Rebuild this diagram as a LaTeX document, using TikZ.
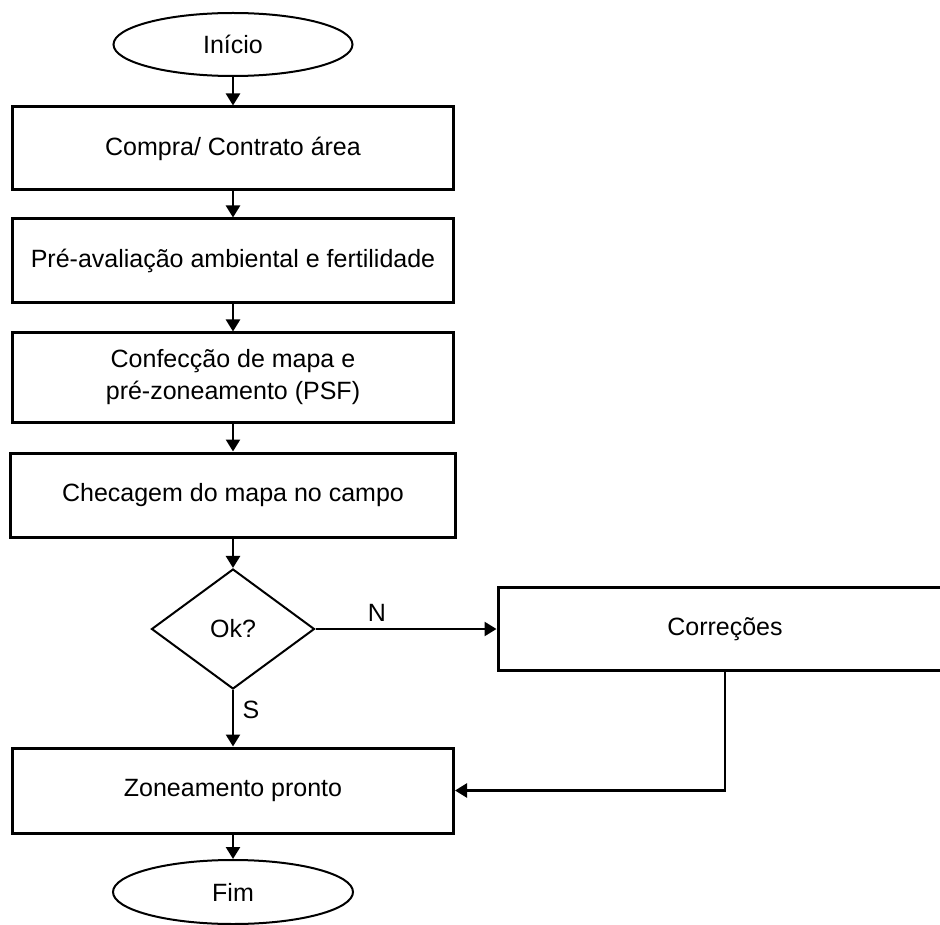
\documentclass[tikz,border=0pt]{standalone}
\usepackage{fontspec}
\setmainfont{Liberation Sans}
\usetikzlibrary{shapes.geometric,arrows.meta}
\begin{document}
\begin{tikzpicture}[x=1pt,y=-1pt,
  every node/.style={font=\fontsize{25}{32}\selectfont, inner sep=0pt},
  procbox/.style={draw, line width=3pt, minimum width=441pt, minimum height=83pt, align=center},
  terminal/.style={draw, ellipse, line width=2pt, minimum width=239pt, minimum height=63pt},
  decision/.style={draw, diamond, line width=2pt, minimum width=163pt, minimum height=120pt},
  flow/.style={line width=2.5pt, -{Triangle[length=12pt,width=14pt]}},
  edgelabel/.style={anchor=center}]
  \useasboundingbox (0,0) rectangle (940,925);
  \clip (0,0) rectangle (940,925);

  % main column
  \node[terminal] (start) at (233,44.5) {Início};
  \node[procbox] (buy) at (233,148.5) {Compra/ Contrato área};
  \node[procbox, minimum height=84pt] (pre) at (233,261) {Pré-avaliação ambiental e fertilidade};
  \node[procbox, minimum height=89pt] (map) at (233,377.5) {Confecção de mapa e\\pré-zoneamento (PSF)};
  \node[procbox, minimum width=445pt, minimum height=84pt] (check) at (233,495) {Checagem do mapa no campo};
  \node[decision] (ok) at (233,629) {Ok?};
  \node[procbox, minimum width=454pt] (fix) at (725,629) {Correções};
  \node[procbox, minimum height=85pt] (ready) at (233,790.5) {Zoneamento pronto};
  \node[terminal, minimum width=240pt, minimum height=64pt] (end) at (233,892) {Fim};

  % connectors
  \draw[flow] (start) -- (buy);
  \draw[flow] (buy) -- (pre);
  \draw[flow] (pre) -- (map);
  \draw[flow] (map) -- (check);
  \draw[flow] (check) -- (ok);
  \draw[flow] (ok.east) -- (fix.west);
  \draw[flow] (ok.south) -- (ready.north);
  \draw[flow] (fix.south) |- (ready.east);
  \draw[flow] (ready) -- (end);

  % branch labels
  \node[edgelabel] (nlabel) at (377,613) {N};
  \node[edgelabel] (slabel) at (251,710) {S};
\end{tikzpicture}
\end{document}
